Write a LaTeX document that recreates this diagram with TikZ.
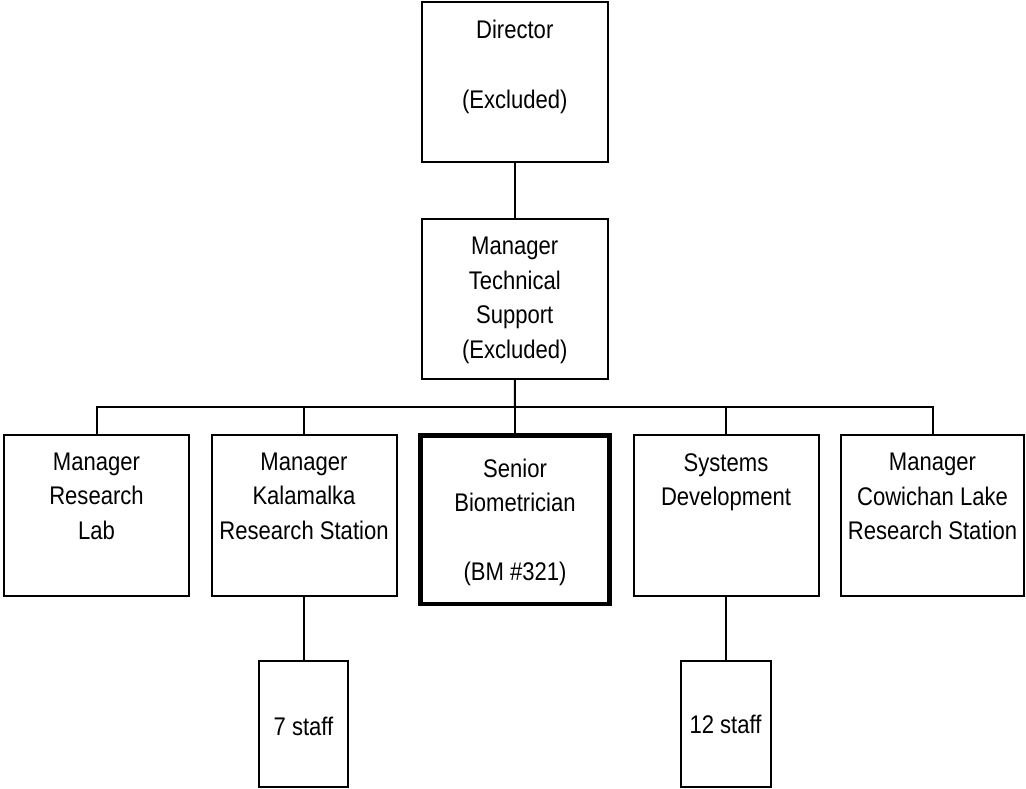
\documentclass[tikz,border=0pt]{standalone}
\usepackage{fontspec}
\newfontfamily\arl[FakeStretch=0.865]{Liberation Sans}
\begin{document}
\begin{tikzpicture}[x=1pt,y=-1pt,
  box/.style={draw, line width=2pt, inner sep=0pt, outer sep=0pt},
  thickbox/.style={draw, line width=4.3pt, inner sep=0pt, outer sep=0pt},
  txt/.style={font=\arl\fontsize{25.5}{34.4}\selectfont, align=center, inner sep=0pt, anchor=north},
  conn/.style={line width=2pt}]
\useasboundingbox (0,0) rectangle (1026,788);
% boxes
\node[box, minimum width=185.5pt, minimum height=160.5pt] (dir) at (514.75,81.75) {};
\node[box, minimum width=185.5pt, minimum height=160.5pt] (mts) at (514.75,298.75) {};
\node[box, minimum width=185pt, minimum height=160.5pt] (mrl) at (96.5,515.25) {};
\node[box, minimum width=185pt, minimum height=160.5pt] (mkr) at (304,515.25) {};
\node[thickbox, minimum width=189pt, minimum height=168.5pt] (sbm) at (515,519.75) {};
\node[box, minimum width=185pt, minimum height=160.5pt] (sdv) at (726,515.25) {};
\node[box, minimum width=183pt, minimum height=160.5pt] (mcl) at (932.5,515.25) {};
\node[box, minimum width=89pt, minimum height=126pt] (s7) at (303.5,723.5) {};
\node[box, minimum width=90pt, minimum height=126pt] (s12) at (725.5,723.5) {};
% texts
\node[txt] (tdir) at (514.75,19.8) {Director\\[36pt](Excluded)};
\node[txt] (tmts) at (514.75,237.2) {Manager\\Technical\\Support\\(Excluded)};
\node[txt] (tmrl) at (96.5,452.5) {Manager\\Research\\Lab};
\node[txt] (tmkr) at (304,452.5) {Manager\\Kalamalka\\Research Station};
\node[txt] (tsbm) at (515,458.5) {Senior\\Biometrician\\[35pt](BM \#321)};
\node[txt] (tsdv) at (726,453) {Systems\\Development};
\node[txt] (tmcl) at (932.5,453) {Manager\\Cowichan Lake\\Research Station};
\node[txt] (ts7) at (303.5,716.5) {7 staff};
\node[txt] (ts12) at (725.5,714.5) {12 staff};
% connectors
\coordinate (bus) at (515,406.5);
\draw[conn] (dir.south) -- (mts.north);
\draw[conn] (mts.south) -- (bus);
\draw[conn] (mrl.north) -- (mrl.north |- bus) -- (mcl.north |- bus) -- (mcl.north);
\draw[conn] (mkr.north |- bus) -- (mkr.north);
\draw[conn] (bus) -- (sbm.north);
\draw[conn] (sdv.north |- bus) -- (sdv.north);
\draw[conn] (mkr.south) -- (mkr.south -| s7.north) -- (s7.north);
\draw[conn] (sdv.south) -- (sdv.south -| s12.north) -- (s12.north);
\end{tikzpicture}
\end{document}
